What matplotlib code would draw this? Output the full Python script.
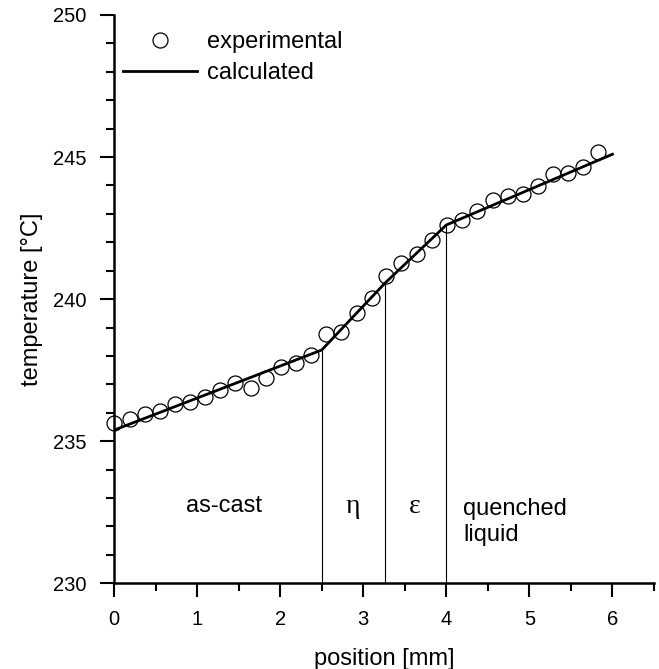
import matplotlib
matplotlib.use("Agg")
import matplotlib.pyplot as plt
from matplotlib.ticker import MultipleLocator

plt.rcParams['font.family'] = ['Liberation Sans', 'DejaVu Sans']

# experimental data
exp_x = [0.00, 0.19, 0.37, 0.55, 0.74, 0.91, 1.10, 1.28, 1.46, 1.645, 1.825,
         2.01, 2.19, 2.37, 2.55, 2.73, 2.92, 3.10, 3.28, 3.45, 3.65, 3.83,
         4.01, 4.19, 4.37, 4.56, 4.74, 4.92, 5.10, 5.29, 5.47, 5.65, 5.83]
exp_T = [235.63, 235.77, 235.96, 236.06, 236.31, 236.39, 236.57, 236.80, 237.06,
         236.86, 237.21, 237.60, 237.76, 238.02, 238.76, 238.85, 239.52, 240.03,
         240.82, 241.26, 241.59, 242.08, 242.62, 242.78, 243.10, 243.49, 243.63,
         243.71, 243.98, 244.39, 244.43, 244.66, 245.19]

# calculated profile
calc_x = [0.0, 2.5, 3.26, 4.0, 6.0]
calc_T = [235.39, 238.21, 240.56, 242.61, 245.10]

# phase boundaries (index into calc arrays)
bound_idx = [1, 2, 3]

# region labels
region_labels = ["as-cast", "η", "ε", "quenched\nliquid"]
region_x = [1.32, 2.88, 3.62, 4.2]
region_y = [232.72, 232.72, 232.72, 232.16]

FS = 17
TFS = 14.5

fig = plt.figure(figsize=(6.59, 6.69), dpi=100)
ax = fig.add_axes([114/659, 85.7/669, 540/659, 568.3/669])

for i in bound_idx:
    ax.plot([calc_x[i], calc_x[i]], [230, calc_T[i]], color='black', lw=0.8, zorder=1)

ax.plot(calc_x, calc_T, color='black', lw=2.0, label='calculated', zorder=2)
ax.plot(exp_x, exp_T, linestyle='none', marker='o', markersize=10.8,
        markerfacecolor='none', markeredgecolor='black', markeredgewidth=0.9,
        label='experimental', zorder=3, clip_on=False)

ax.set_xlim(0, 6.5)
ax.set_ylim(230, 250)
ax.xaxis.set_major_locator(MultipleLocator(1))
ax.xaxis.set_minor_locator(MultipleLocator(0.5))
ax.yaxis.set_major_locator(MultipleLocator(5))
ax.yaxis.set_minor_locator(MultipleLocator(1))

for s in ['top', 'right']:
    ax.spines[s].set_visible(False)
for s in ['left', 'bottom']:
    ax.spines[s].set_linewidth(1.8)

ax.tick_params(which='major', direction='out', length=10, width=1.5,
               labelsize=TFS)
ax.tick_params(axis='y', which='major', pad=10)
ax.tick_params(axis='x', which='major', pad=9)
ax.tick_params(which='minor', direction='out', length=5.8, width=1.5)

ax.set_xlabel('position [mm]', fontsize=FS, labelpad=14)
ax.set_ylabel('temperature [°C]', fontsize=FS, labelpad=7)

for lab, x, y in zip(region_labels, region_x, region_y):
    if lab in ("η", "ε"):
        ax.text(x, y, lab, ha='center', va='center', fontsize=20,
                family=['Liberation Serif', 'DejaVu Serif'])
    elif lab.startswith("quenched"):
        ax.text(x, y, lab, ha='left', va='center', fontsize=FS, linespacing=1.25)
    else:
        ax.text(x, y, lab, ha='center', va='center', fontsize=FS)

handles, labels = ax.get_legend_handles_labels()
order = [1, 0]
ax.legend([handles[i] for i in order], [labels[i] for i in order],
          loc='upper left', bbox_to_anchor=(0.0, 0.988), frameon=False,
          fontsize=FS, handlelength=3.1, handletextpad=0.42,
          labelspacing=0.37, borderaxespad=0.15, borderpad=0.25)

fig.savefig('out.png', dpi=100)
